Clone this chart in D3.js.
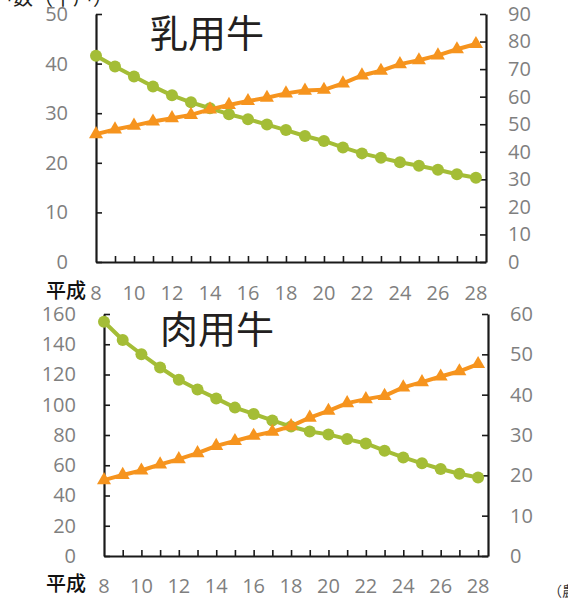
<!DOCTYPE html>
<html><head><meta charset="utf-8">
<script src="https://cdn.jsdelivr.net/npm/d3@7"></script>
<style>
html,body{margin:0;padding:0;background:#fff;}
svg{display:block;}
.tick text{font-family:"Open Sans","Liberation Sans",sans-serif;}
</style></head>
<body>
<script>
// ---- data ----
const years = [8,9,10,11,12,13,14,15,16,17,18,19,20,21,22,23,24,25,26,27,28];
const xTickLabels = [8,10,12,14,16,18,20,22,24,26,28];
const eraLabel = "平成";

const dairyTitle = "乳用牛";
const dairyFarms = [41.6,39.4,37.4,35.4,33.6,32.2,31.0,29.8,28.8,27.7,26.6,25.4,24.4,23.1,21.9,21.0,20.1,19.4,18.6,17.7,17.0];
const dairyPerFarm = [46.4,48.1,49.5,51.0,52.2,53.4,55.4,57.0,58.4,59.6,61.2,62.2,62.5,64.8,67.7,69.4,71.8,73.2,75.0,77.2,79.1];
const dairyLeftTicks = [0,10,20,30,40,50];
const dairyRightTicks = [0,10,20,30,40,50,60,70,80,90];

const beefTitle = "肉用牛";
const beefFarms = [154.9,142.8,133.4,124.6,116.5,110.1,104.2,98.1,93.9,89.6,85.6,82.3,80.4,77.3,74.4,69.6,65.2,61.3,57.5,54.4,51.9];
const beefPerFarm = [18.8,20.1,21.2,22.7,24.0,25.5,27.3,28.5,29.8,30.8,32.2,34.3,36.0,37.9,38.9,39.7,41.8,43.1,44.5,45.8,47.6];
const beefLeftTicks = [0,20,40,60,80,100,120,140,160];
const beefRightTicks = [0,10,20,30,40,50,60];

const leftAxisTitle = "飼養戸数（千戸）";
const sourceNote = "（農林水産省「畜産統計」）";

const GREEN = "#a4bd36", ORANGE = "#f6941e";

const svg = d3.select("body").append("svg").attr("width",568).attr("height",598);

function panel(o){
  const g = svg.append("g");
  const x = d3.scaleLinear().domain([8,28.53]).range([o.x0,o.x1]);
  const yL = d3.scaleLinear().domain([0,o.lMax]).range([o.yB,o.yT]);
  const yR = d3.scaleLinear().domain([0,o.rMax]).range([o.yB,o.yT]);

  const styleAxis = (sel)=>{
    sel.selectAll("path.domain").attr("stroke","#1a1a1a").attr("stroke-width",2.2);
    sel.selectAll(".tick line").attr("stroke","#1a1a1a").attr("stroke-width",1.6);
    sel.selectAll(".tick text").attr("fill","#7f7f7f").attr("font-size",20);
  };
  g.append("g").attr("transform",`translate(${o.x0},0)`)
    .call(d3.axisLeft(yL).tickValues(o.lTicks).tickSize(-6).tickSizeOuter(0).tickPadding(o.lPad))
    .call(styleAxis);
  g.append("g").attr("transform",`translate(${o.x1},0)`)
    .call(d3.axisRight(yR).tickValues(o.rTicks).tickSize(-6).tickSizeOuter(0).tickPadding(o.rPad))
    .call(styleAxis);
  g.append("g").attr("transform",`translate(0,${o.yB})`)
    .call(d3.axisBottom(x).tickValues(years.slice(1)).tickSize(-6).tickSizeOuter(0).tickFormat(""))
    .call(styleAxis);

  // x labels
  g.selectAll("text.xl").data(xTickLabels).join("text")
    .attr("x",d=>x(d)).attr("y",o.labY).attr("text-anchor","middle")
    .attr("font-family",'"Open Sans",sans-serif').attr("font-size",20).attr("fill","#7f7f7f")
    .text(d=>d);
  g.append("text").attr("x",o.eraX).attr("y",o.labY-2).attr("text-anchor","end")
    .attr("font-family",'"Noto Sans CJK JP",sans-serif').attr("font-size",20).attr("fill","#111")
    .attr("font-weight",500).text(eraLabel);

  // title
  g.append("text").attr("x",o.tX).attr("y",o.tY)
    .attr("font-family",'"Noto Sans CJK JP",sans-serif').attr("font-size",38).attr("fill","#231f20")
    .text(o.title);

  // green line (left axis)
  const lineL = d3.line().x((d,i)=>x(years[i])).y(d=>yL(d));
  g.append("path").datum(o.left).attr("d",lineL).attr("fill","none")
    .attr("stroke",GREEN).attr("stroke-width",4).attr("stroke-linejoin","round");
  g.selectAll("circle.m").data(o.left).join("circle")
    .attr("cx",(d,i)=>x(years[i])).attr("cy",d=>yL(d)).attr("r",6).attr("fill",GREEN);

  // orange line (right axis)
  const lineR = d3.line().x((d,i)=>x(years[i])).y(d=>yR(d));
  g.append("path").datum(o.right).attr("d",lineR).attr("fill","none")
    .attr("stroke",ORANGE).attr("stroke-width",4).attr("stroke-linejoin","round");
  const tri = d3.symbol().type(d3.symbolTriangle).size(85);
  g.selectAll("path.t").data(o.right).join("path")
    .attr("d",tri).attr("fill",ORANGE)
    .attr("transform",(d,i)=>`translate(${x(years[i])},${yR(d)})`);
}

panel({x0:96,x1:486,yT:14,yB:262,lMax:50,rMax:90,lTicks:dairyLeftTicks,rTicks:dairyRightTicks,
  lPad:28,rPad:22,labY:300,eraX:86,tX:150,tY:47,title:dairyTitle,left:dairyFarms,right:dairyPerFarm});
panel({x0:104,x1:488,yT:314,yB:556,lMax:160,rMax:60,lTicks:beefLeftTicks,rTicks:beefRightTicks,
  lPad:28,rPad:22,labY:593,eraX:86,tX:160,tY:343,title:beefTitle,left:beefFarms,right:beefPerFarm});

svg.append("text").attr("x",113).attr("y",5).attr("text-anchor","end")
  .attr("font-family",'"Noto Sans CJK JP",sans-serif').attr("font-size",20).attr("fill","#231f20")
  .text(leftAxisTitle);
svg.append("text").attr("x",548).attr("y",596)
  .attr("font-family",'"Noto Sans CJK JP",sans-serif').attr("font-size",14).attr("fill","#333")
  .text(sourceNote);
</script>
</body></html>
